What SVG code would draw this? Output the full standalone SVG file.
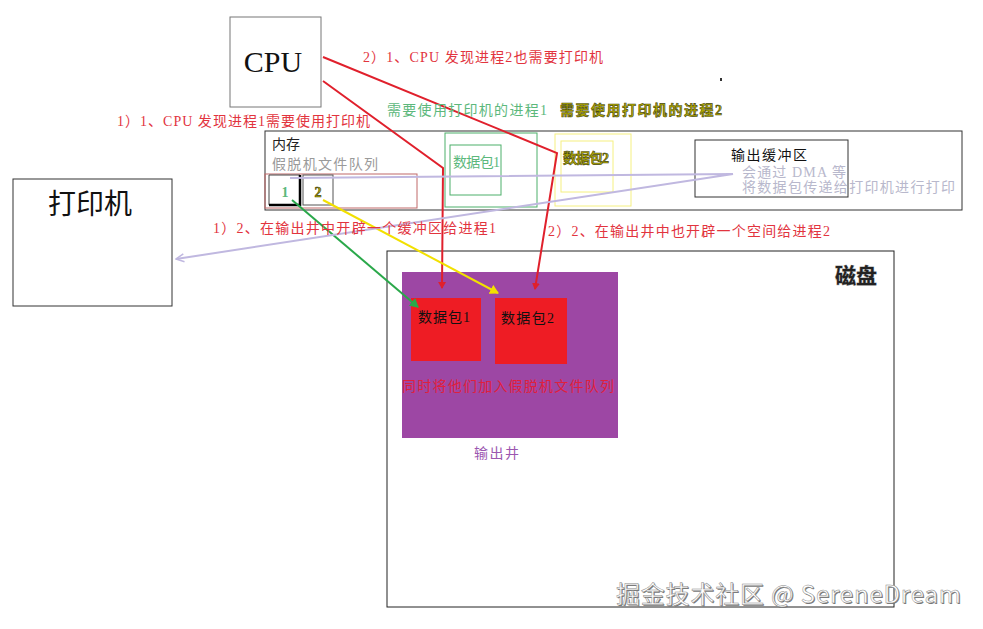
<svg xmlns="http://www.w3.org/2000/svg" width="983" height="629" viewBox="0 0 983 629">
<defs>
<style>
text{font-family:"Liberation Serif","Noto Sans CJK SC",serif;font-size:14px}
.red{fill:#e2343e}
.grn{fill:#5cb87c}
.olive{fill:#b0a800;stroke:#4a4a10;stroke-width:0.6;font-weight:bold}
.lav{fill:#b8b8cc}
.box{fill:none;stroke:#333;stroke-width:1}
.sans{font-family:"Noto Sans CJK SC",sans-serif}
.wm{font-family:"Noto Sans CJK SC",sans-serif;font-size:24px}
</style>
<marker id="aR" markerWidth="8" markerHeight="8" refX="6" refY="4" orient="auto" markerUnits="userSpaceOnUse"><path d="M0,0 L7,4 L0,8 z" fill="#e0202c"/></marker>
<marker id="aG" markerWidth="10" markerHeight="10" refX="8" refY="5" orient="auto" markerUnits="userSpaceOnUse"><path d="M0,0 L9,5 L0,10 z" fill="#2aa84a"/></marker>
<marker id="aY" markerWidth="10" markerHeight="10" refX="8" refY="5" orient="auto" markerUnits="userSpaceOnUse"><path d="M0,0 L9,5 L0,10 z" fill="#f2e000"/></marker>
<marker id="aL" markerWidth="10" markerHeight="10" refX="9" refY="5" orient="auto" markerUnits="userSpaceOnUse"><path d="M1,1 L9,5 L1,9" fill="none" stroke="#c0b8e0" stroke-width="1.5"/></marker>
</defs>
<rect width="983" height="629" fill="#fff"/>

<g id="cpu">
<rect x="230" y="17" width="91" height="90" fill="#fff" stroke="#777"/>
<text x="273" y="72" text-anchor="middle" style="font-size:30px" fill="#111">CPU</text>
</g>

<g id="printer">
<rect x="13" y="179" width="159" height="127" fill="#fff" stroke="#333"/>
<text x="90" y="214" text-anchor="middle" class="sans" style="font-size:28px" fill="#111">打印机</text>
</g>

<g id="memory">
<rect x="265" y="131" width="697" height="79" class="box"/>
<text x="272" y="149" fill="#222" textLength="28">内存</text>
<text x="272" y="169" fill="#9a9a9a" textLength="106">假脱机文件队列</text>
</g>

<g id="queue">
<rect x="265" y="174" width="152" height="34" fill="none" stroke="#c06868"/>
<g id="q1">
<path d="M269,205 L269,175 L300,175" fill="none" stroke="#444" stroke-width="1"/>
<path d="M269,205 L300,205 L300,175" fill="none" stroke="#000" stroke-width="2.5"/>
<text x="285" y="197" text-anchor="middle" class="grn" style="font-weight:bold">1</text>
</g>
<g id="q2">
<rect x="303" y="175" width="30" height="30" fill="none" stroke="#555"/>
<text x="318" y="197" text-anchor="middle" class="olive">2</text>
</g>
</g>

<g id="proc1">
<rect x="445" y="133" width="92" height="74" fill="none" stroke="#4caf6a"/>
<rect x="450" y="145" width="51" height="50" fill="none" stroke="#4caf6a"/>
<text x="453" y="167" class="grn" textLength="47">数据包1</text>
</g>

<g id="proc2">
<rect x="555" y="134" width="76" height="72" fill="none" stroke="#f5f080"/>
<rect x="561" y="141" width="52" height="51" fill="none" stroke="#f5f080"/>
<text x="563" y="163" class="olive" textLength="46">数据包2</text>
</g>

<g id="buffer">
<rect x="695" y="140" width="153" height="57" fill="#fff" stroke="#333"/>
<text x="731" y="160" fill="#111" textLength="76">输出缓冲区</text>
<text x="742" y="177" class="lav" textLength="104">会通过 DMA 等</text>
<text x="742" y="192" class="lav" textLength="213">将数据包传递给打印机进行打印</text>
</g>

<g id="disk">
<rect x="387" y="251" width="507" height="356" fill="none" stroke="#222"/>
<text x="856" y="283" text-anchor="middle" class="sans" style="font-size:21px;font-weight:bold;fill:#222;stroke:#aaa;stroke-width:0.8;paint-order:stroke">磁盘</text>
</g>

<g id="spool">
<rect x="402" y="272" width="216" height="166" fill="#9d47a4"/>
<text x="402" y="391" fill="#e0203c" textLength="212">同时将他们加入假脱机文件队列</text>
<text x="474" y="458" fill="#9b57b0" textLength="45">输出井</text>
</g>

<g id="pkt1">
<rect x="411" y="298" width="70" height="63" fill="#ee1c24"/>
<text x="418" y="322" fill="#111" textLength="52">数据包1</text>
</g>
<g id="pkt2">
<rect x="495" y="298" width="72" height="66" fill="#ee1c24"/>
<text x="501" y="323" fill="#111" textLength="53">数据包2</text>
</g>

<g id="connectors" fill="none">
<polyline points="323,81 443,168 442,288" stroke="#e0202c" stroke-width="2" marker-end="url(#aR)"/>
<polyline points="323,57 557,153 535,289" stroke="#e0202c" stroke-width="2" marker-end="url(#aR)"/>
<line x1="292" y1="200" x2="418" y2="307" stroke="#2aa84a" stroke-width="2" marker-end="url(#aG)"/>
<line x1="323" y1="200" x2="498" y2="293" stroke="#f2e000" stroke-width="2" marker-end="url(#aY)"/>
<polyline points="290,178 733,174 176,259" stroke="#c0b8e0" stroke-width="2" marker-end="url(#aL)"/>
</g>

<g id="labels">
<text x="363" y="62" class="red" textLength="240">2）1、CPU 发现进程2也需要打印机</text>
<text x="117" y="126" class="red" textLength="253">1）1、CPU 发现进程1需要使用打印机</text>
<text x="387" y="115" class="grn" textLength="160">需要使用打印机的进程1</text>
<text x="560" y="115" class="olive" textLength="162">需要使用打印机的进程2</text>
<text x="213" y="233" class="red" textLength="283">1）2、在输出井中开辟一个缓冲区给进程1</text>
<text x="548" y="236" class="red" textLength="282">2）2、在输出井中也开辟一个空间给进程2</text>
</g>

<rect x="720" y="78" width="2" height="3" fill="#333"/>

<g id="watermark">
<text x="617" y="604" class="wm" fill="#777" textLength="345">掘金技术社区 @ SereneDream</text>
<text x="616" y="603" class="wm" fill="#fff" stroke="#888" stroke-width="0.5" textLength="345">掘金技术社区 @ SereneDream</text>
</g>
</svg>
